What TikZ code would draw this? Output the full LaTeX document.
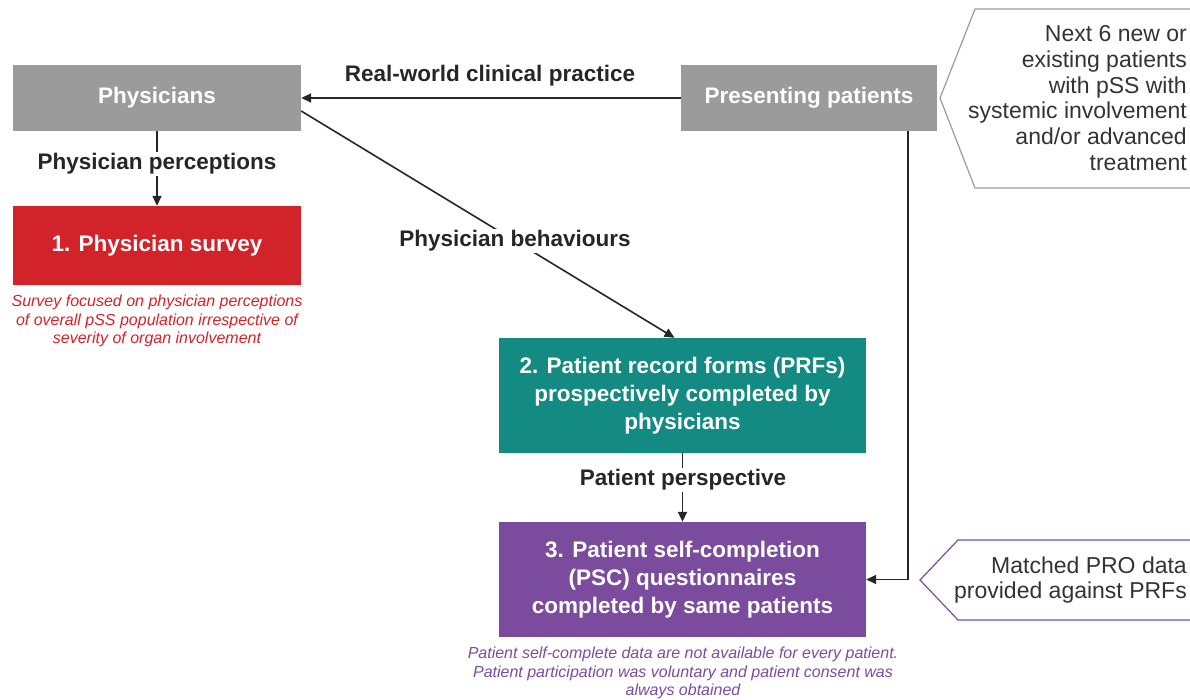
\documentclass[tikz,border=0pt]{standalone}
\usepackage{fontspec}
\setmainfont{Liberation Sans}
\usetikzlibrary{arrows.meta}

\definecolor{boxgray}{HTML}{9B9B9B}
\definecolor{surveyred}{HTML}{D2232A}
\definecolor{prfteal}{HTML}{138A82}
\definecolor{pscpurple}{HTML}{7B4B9E}

\begin{document}
\begin{tikzpicture}[
    x=1pt, y=-1pt,
    box/.style={fill=#1, text=white, inner sep=0pt, align=center,
        font=\fontsize{22.5}{28}\selectfont\bfseries},
    flow/.style={-{Triangle[length=10pt,width=9pt]}, line width=1.6pt, black!85},
    flow label/.style={fill=white, inner sep=2pt, text=black!85,
        font=\fontsize{22.5}{26}\selectfont\bfseries},
    note/.style={text=#1, align=center, font=\fontsize{16}{18.6}\selectfont\itshape},
    callout/.style={draw=#1, line width=1.2pt},
    callout text/.style={anchor=east, align=right, inner sep=0pt, text=black!80,
        font=\fontsize{23}{25.8}\selectfont}
]
\useasboundingbox (0,0) rectangle (1190,699);

% Grey boxes
\node[box=boxgray, minimum width=288pt, minimum height=66pt] (physicians) at (157,98) {Physicians};
\node[box=boxgray, minimum width=256pt, minimum height=66pt] (presenting) at (809,98) {Presenting patients};

% Study components
\node[box=surveyred, minimum width=288pt, minimum height=79pt] (survey) at (157,245.5) {1. Physician survey};
\node[box=prfteal, minimum width=367pt, minimum height=115pt] (prf) at (682.5,395.5)
    {2. Patient record forms (PRFs)\\prospectively completed by\\physicians};
\node[box=pscpurple, minimum width=367pt, minimum height=115pt] (psc) at (682.5,579.5)
    {3. Patient self-completion\\(PSC) questionnaires\\completed by same patients};

% Notes
\node[note=surveyred] (surveynote) at (157,321) {Survey focused on physician perceptions\\of overall pSS population irrespective of\\severity of organ involvement};
\node[note=pscpurple] (pscnote) at (683,673) {Patient self-complete data are not available for every patient.\\Patient participation was voluntary and patient consent was\\always obtained};

% Connectors
\draw[flow] (presenting.west) -- (physicians.east);
\node[flow label, fill=none] (practice) at (490,76) {Real-world clinical practice};

\draw[flow] (physicians.south) -- (survey.north);
\node[flow label] (perceptions) at (157,164) {Physician perceptions};

\draw[flow] ([yshift=-13pt]physicians.east) -- ([xshift=-8pt]prf.north);
\node[flow label] (behaviours) at (515,241) {Physician behaviours};

\draw[flow] (prf.south) -- (psc.north);
\node[flow label] (perspective) at (683,480) {Patient perspective};

\draw[flow] ([xshift=99pt]presenting.south) |- (psc.east);

% Callouts
\draw[callout=boxgray] (1195,9) -- (975,9) -- (940,98) -- (975,188) -- (1195,188);
\node[callout text] (criteria) at (1187,98) {Next 6 new or\\existing patients\\with pSS with\\systemic involvement\\and/or advanced\\treatment};

\draw[callout=pscpurple] (1195,540) -- (958,540) -- (920,580) -- (958,620) -- (1195,620);
\node[callout text] (matched) at (1187,580) {Matched PRO data\\provided against PRFs};

\end{tikzpicture}
\end{document}
